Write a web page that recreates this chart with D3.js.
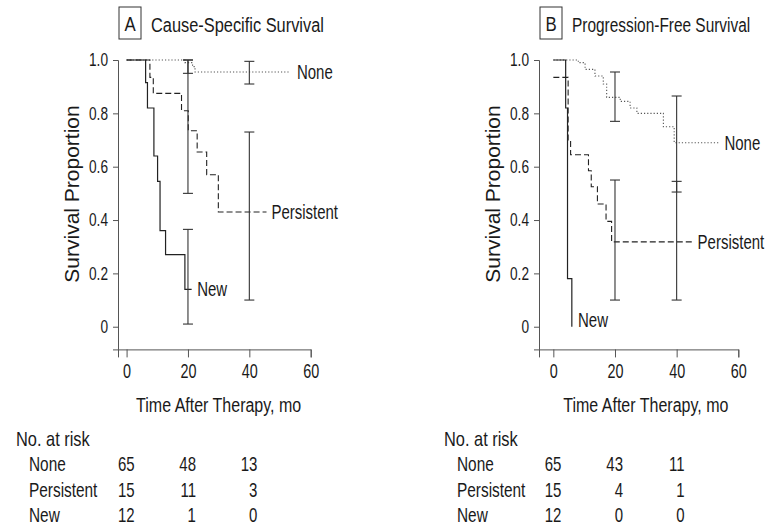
<!DOCTYPE html>
<html>
<head>
<meta charset="utf-8">
<script src="https://cdn.jsdelivr.net/npm/d3@7"></script>
<style>
  body { margin: 0; background: #fff; }
  svg text { font-family: "Liberation Sans", Arial, sans-serif; fill: #1a1a1a; }
</style>
</head>
<body>
<svg id="chart" width="775" height="527"></svg>
<script>
// curve values: [month, survival proportion]
const csNone = [[0, 1], [19.0, 0.99], [21.5, 0.975], [22.3, 0.955], [53.2, 0.955]];
const csPersistent = [[0, 1], [7.6, 0.935], [8.7, 0.875], [17.9, 0.81], [20.1, 0.735], [23.0, 0.655], [26.1, 0.57], [29.9, 0.43], [45.6, 0.43]];
const csNew = [[0, 1], [6.2, 0.915], [6.8, 0.82], [8.9, 0.64], [10.1, 0.545], [10.9, 0.36], [12.7, 0.27], [19.0, 0.14], [21.2, 0.14]];

const pfsNone = [[0, 1], [8.1, 0.99], [10.3, 0.965], [13.5, 0.94], [16.2, 0.91], [17.3, 0.86], [21.7, 0.845], [24.9, 0.82], [27.1, 0.80], [35.7, 0.75], [39.2, 0.69], [53.6, 0.69]];
const pfsPersistent = [[0, 0.935], [4.8, 0.70], [5.6, 0.645], [11.4, 0.585], [12.3, 0.525], [14.3, 0.46], [17.1, 0.395], [18.9, 0.318], [45.5, 0.318]];
const pfsNew = [[0, 1], [4.0, 0.82], [4.6, 0.18], [6.0, 0], [6.0, 0]];

// confidence intervals: [month, low, high]
const csCI = [[20, 0.95, 1.0], [20, 0.50, 1.0], [20, 0.01, 0.365], [40, 0.91, 0.995], [40, 0.10, 0.73]];
const pfsCI = [[20, 0.77, 0.955], [20, 0.10, 0.55], [40, 0.505, 0.865], [40, 0.10, 0.545]];

// label anchors: [name, month, value]
const csLabels = [["None", 55.5, 0.955], ["Persistent", 47.2, 0.43], ["New", 23.0, 0.14]];
const pfsLabels = [["None", 55.5, 0.69], ["Persistent", 46.8, 0.318], ["New", 8.0, 0.025]];

const xTicks = [0, 20, 40, 60];
const yTicks = [0, 0.2, 0.4, 0.6, 0.8, 1.0];
const groups = ["None", "Persistent", "New"];
const riskTimes = [0, 20, 40];
const csRisk = [[65, 48, 13], [15, 11, 3], [12, 1, 0]];
const pfsRisk = [[65, 43, 11], [15, 4, 1], [12, 0, 0]];

const svg = d3.select("#chart");

const styles = {
  None: { stroke: "#555", width: 1.1, dash: "1.2,2" },
  Persistent: { stroke: "#222", width: 1.1, dash: "6,3" },
  New: { stroke: "#222", width: 1.2, dash: null }
};

// the reference uses a condensed face; squeeze the regular one horizontally
function squeeze(sel, k) {
  sel.each(function () {
    const t = d3.select(this);
    const tx = +t.attr("x") || 0, ty = +t.attr("y") || 0;
    t.attr("x", 0).attr("y", 0)
      .attr("transform", `translate(${tx},${ty}) scale(${k},1)`);
  });
}

function drawPanel(p) {
  const x = d3.scaleLinear().domain([p.xMin, 60]).range([p.left, p.right]);
  const y = d3.scaleLinear().domain([-0.085, 1]).range([349.4, 60]);
  const g = svg.append("g");

  // title with letter box
  g.append("rect")
    .attr("x", p.left + 1).attr("y", 7)
    .attr("width", 22).attr("height", 32)
    .attr("fill", "none").attr("stroke", "#333").attr("stroke-width", 1);
  g.append("text")
    .attr("x", p.left + 12).attr("y", 31)
    .attr("text-anchor", "middle")
    .style("font-size", "21px")
    .text(p.letter)
    .call(squeeze, 0.8);
  g.append("text")
    .attr("x", p.left + 33).attr("y", 32)
    .style("font-size", "21px")
    .text(p.title)
    .call(squeeze, p.titleSqueeze);

  // axes
  const yAxis = g.append("g")
    .attr("transform", `translate(${p.left},0)`)
    .call(d3.axisLeft(y).tickValues(yTicks).tickSizeOuter(0).tickSize(5).tickPadding(5)
      .tickFormat(d => d === 0 ? "0" : d3.format(".1f")(d)));
  yAxis.selectAll(".tick text").style("font-size", "18px").call(squeeze, 0.76);

  const xAxis = g.append("g")
    .attr("transform", `translate(0,${y.range()[0]})`)
    .call(d3.axisBottom(x).tickValues(xTicks).tickSizeOuter(0).tickSize(8).tickPadding(6));
  xAxis.selectAll(".tick text").style("font-size", "20px").call(squeeze, 0.72);

  [yAxis, xAxis].forEach(a => {
    a.select(".domain").attr("stroke", "#555");
    a.selectAll(".tick line").attr("stroke", "#555");
  });

  g.append("text")
    .attr("x", (x(0) + x(60)) / 2).attr("y", 412)
    .attr("text-anchor", "middle")
    .style("font-size", "20px")
    .text("Time After Therapy, mo")
    .call(squeeze, 0.8);

  g.append("text")
    .attr("transform", `translate(${p.left - 39},${194}) rotate(-90)`)
    .attr("text-anchor", "middle")
    .style("font-size", "21px")
    .text("Survival Proportion");

  // curves
  const line = d3.line().x(d => x(d[0])).y(d => y(d[1])).curve(d3.curveStepAfter);
  p.curves.forEach((c, i) => {
    const s = styles[groups[i]];
    g.append("path")
      .attr("d", line(c))
      .attr("fill", "none")
      .attr("stroke", s.stroke)
      .attr("stroke-width", s.width)
      .attr("stroke-dasharray", s.dash);
  });

  // confidence bars
  const cap = 5;
  p.ci.forEach(d => {
    const cx = x(d[0]);
    g.append("line").attr("x1", cx).attr("x2", cx).attr("y1", y(d[1])).attr("y2", y(d[2]))
      .attr("stroke", "#333").attr("stroke-width", 1.1);
    [d[1], d[2]].forEach(v => {
      g.append("line").attr("x1", cx - cap).attr("x2", cx + cap).attr("y1", y(v)).attr("y2", y(v))
        .attr("stroke", "#333").attr("stroke-width", 1.1);
    });
  });

  // curve labels
  p.labels.forEach(d => {
    g.append("text")
      .attr("x", x(d[1])).attr("y", y(d[2]))
      .attr("dy", "0.35em")
      .style("font-size", "20px")
      .text(d[0])
      .call(squeeze, 0.75);
  });

  // number at risk
  g.append("text").attr("x", p.tableLeft).attr("y", 446).style("font-size", "20px")
    .text("No. at risk").call(squeeze, 0.82);
  groups.forEach((name, r) => {
    const by = 471 + r * 25.5;
    g.append("text").attr("x", p.tableLeft + 13).attr("y", by).style("font-size", "20px")
      .text(name).call(squeeze, 0.77);
    p.risk[r].forEach((n, k) => {
      g.append("text")
        .attr("x", x(riskTimes[k]) + 8).attr("y", by)
        .attr("text-anchor", "end")
        .style("font-size", "20px")
        .text(n)
        .call(squeeze, 0.75);
    });
  });
}

drawPanel({
  letter: "A", title: "Cause-Specific Survival", titleSqueeze: 0.78,
  left: 118, right: 310.7, xMin: -2.8,
  curves: [csNone, csPersistent, csNew], ci: csCI, labels: csLabels,
  risk: csRisk, tableLeft: 16
});

drawPanel({
  letter: "B", title: "Progression-Free Survival", titleSqueeze: 0.735,
  left: 539, right: 738.3, xMin: -4.65,
  curves: [pfsNone, pfsPersistent, pfsNew], ci: pfsCI, labels: pfsLabels,
  risk: pfsRisk, tableLeft: 444
});
</script>
</body>
</html>
